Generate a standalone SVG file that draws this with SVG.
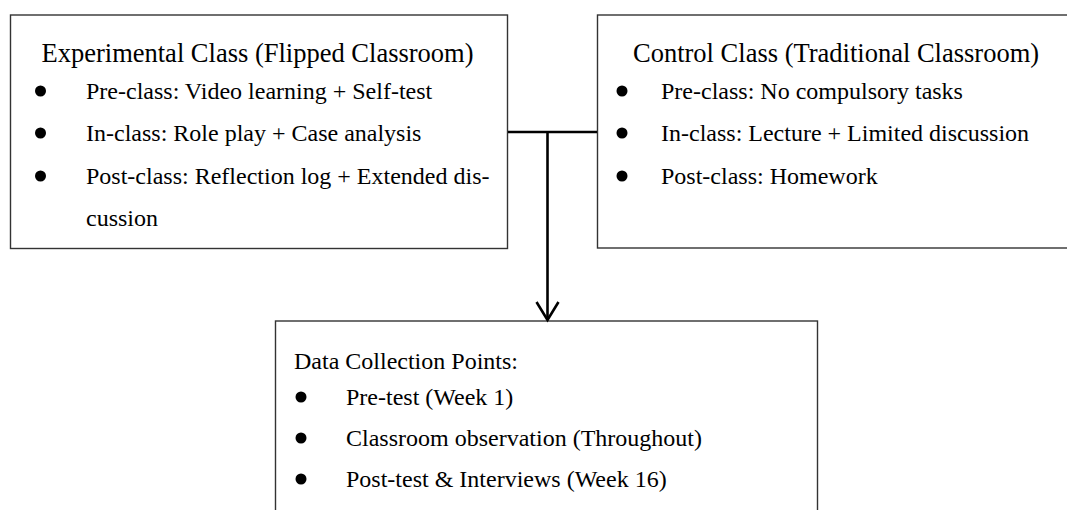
<svg xmlns="http://www.w3.org/2000/svg" width="1067" height="510" viewBox="0 0 1067 510">
<style>
.box{fill:#fff;stroke:#333;stroke-width:1.4}
.t{font-family:"Liberation Serif","Times New Roman",serif;font-size:24px;fill:#000}
.h{font-family:"Liberation Serif","Times New Roman",serif;font-size:26.5px;fill:#000}
.b{fill:#000}
.c{stroke:#000;stroke-width:2.6;fill:none}
</style>
<rect width="1067" height="510" fill="#fff"/>
<g id="experimental">
<rect class="box" x="10.5" y="15" width="497" height="233.5"/>
<text class="h" x="41.5" y="62">Experimental Class (Flipped Classroom)</text>
<circle class="b" cx="40.5" cy="91" r="5.5"/>
<text class="t" x="86" y="99">Pre-class: Video learning + Self-test</text>
<circle class="b" cx="40.5" cy="133" r="5.5"/>
<text class="t" x="86" y="141">In-class: Role play + Case analysis</text>
<circle class="b" cx="40.5" cy="176" r="5.5"/>
<text class="t" x="86" y="184">Post-class: Reflection log + Extended dis-</text>
<text class="t" x="86" y="226">cussion</text>
</g>
<g id="control">
<rect class="box" x="597.5" y="15" width="475" height="233"/>
<text class="h" x="633" y="62">Control Class (Traditional Classroom)</text>
<circle class="b" cx="622" cy="91" r="5.5"/>
<text class="t" x="661" y="99">Pre-class: No compulsory tasks</text>
<circle class="b" cx="622" cy="133" r="5.5"/>
<text class="t" x="661" y="141">In-class: Lecture + Limited discussion</text>
<circle class="b" cx="622" cy="176" r="5.5"/>
<text class="t" x="661" y="184">Post-class: Homework</text>
</g>
<g id="data">
<rect class="box" x="275.5" y="321" width="542" height="200"/>
<text class="t" x="294" y="369">Data Collection Points:</text>
<circle class="b" cx="301" cy="397" r="5.5"/>
<text class="t" x="346" y="405">Pre-test (Week 1)</text>
<circle class="b" cx="301" cy="438" r="5.5"/>
<text class="t" x="346" y="446">Classroom observation (Throughout)</text>
<circle class="b" cx="301" cy="479" r="5.5"/>
<text class="t" x="346" y="487">Post-test &amp; Interviews (Week 16)</text>
</g>
<g id="connectors">
<line class="c" x1="508" y1="132" x2="597" y2="132"/>
<line class="c" x1="547.5" y1="132" x2="547.5" y2="320" stroke-width="3"/>
<polyline class="c" points="536.5,302 547.5,320 558.5,302" stroke-width="2.2"/>
</g>
</svg>
